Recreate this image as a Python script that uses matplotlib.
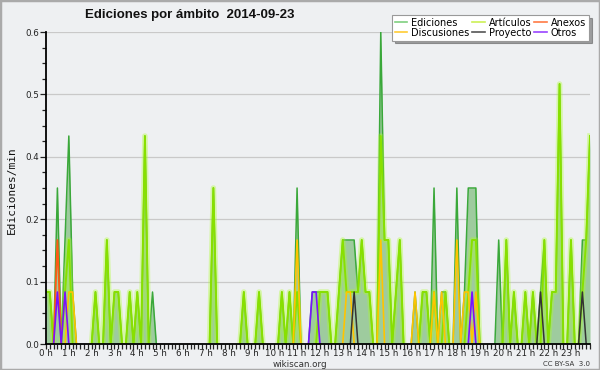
import numpy as np
import matplotlib
matplotlib.use("Agg")
import matplotlib.pyplot as plt
from matplotlib.lines import Line2D
from matplotlib.patches import Rectangle
from matplotlib.ticker import FixedLocator, MultipleLocator

# edits counted per 10-minute bin (6 bins per hour, 24 rows = hours 0..23)
ediciones = [
    1, 1, 0, 3, 0, 2,   4, 1, 0, 0, 0, 0,   0, 1, 0, 0, 2, 0,   1, 1, 0, 0, 1, 0,
    1, 0, 4, 0, 1, 0,   0, 0, 0, 0, 0, 0,   0, 0, 0, 0, 0, 0,   0, 0, 3, 0, 0, 0,
    0, 0, 0, 0, 1, 0,   0, 0, 1, 0, 0, 0,   0, 0, 1, 0, 1, 0,   3, 0, 0, 0, 1, 1,
    1, 1, 1, 0, 0, 1,   2, 2, 2, 2, 1, 2,   1, 1, 0, 0, 6, 2,   2, 0, 1, 2, 0, 0,
    0, 1, 0, 1, 1, 0,   3, 0, 1, 1, 0, 0,   3, 0, 1, 3, 3, 3,   0, 0, 0, 0, 0, 2,
    0, 2, 0, 1, 0, 0,   1, 0, 1, 0, 1, 2,   0, 1, 1, 5, 0, 0,   2, 0, 0, 2, 2, 4,
]
articulos = [
    1, 1, 0, 0, 0, 1,   2, 0, 0, 0, 0, 0,   0, 1, 0, 0, 2, 0,   1, 1, 0, 0, 1, 0,
    1, 0, 4, 0, 0, 0,   0, 0, 0, 0, 0, 0,   0, 0, 0, 0, 0, 0,   0, 0, 3, 0, 0, 0,
    0, 0, 0, 0, 1, 0,   0, 0, 1, 0, 0, 0,   0, 0, 1, 0, 1, 0,   1, 0, 0, 0, 0, 0,
    1, 1, 1, 0, 0, 1,   2, 1, 1, 1, 1, 2,   1, 1, 0, 0, 4, 2,   2, 0, 1, 2, 0, 0,
    0, 0, 0, 1, 1, 0,   1, 0, 0, 1, 0, 0,   0, 0, 0, 1, 2, 2,   0, 0, 0, 0, 0, 0,
    0, 2, 0, 1, 0, 0,   1, 0, 1, 0, 0, 2,   0, 1, 1, 5, 0, 0,   2, 0, 0, 1, 2, 4,
]
anexos = [
    0, 0, 0, 2, 0, 0,   0, 0, 0, 0, 0, 0,   0, 0, 0, 0, 0, 0,   0, 0, 0, 0, 0, 0,
    0, 0, 0, 0, 0, 0,   0, 0, 0, 0, 0, 0,   0, 0, 0, 0, 0, 0,   0, 0, 0, 0, 0, 0,
    0, 0, 0, 0, 0, 0,   0, 0, 0, 0, 0, 0,   0, 0, 0, 0, 0, 0,   0, 0, 0, 0, 0, 0,
    0, 0, 0, 0, 0, 0,   0, 0, 0, 0, 0, 0,   0, 0, 0, 0, 0, 0,   0, 0, 0, 0, 0, 0,
    0, 0, 0, 0, 0, 0,   0, 0, 0, 0, 0, 0,   0, 0, 0, 0, 0, 0,   0, 0, 0, 0, 0, 0,
    0, 0, 0, 0, 0, 0,   0, 0, 0, 0, 0, 0,   0, 0, 0, 0, 0, 0,   0, 0, 0, 0, 0, 0,
]
discusiones = [
    0, 0, 0, 0, 0, 0,   1, 1, 0, 0, 0, 0,   0, 0, 0, 0, 0, 0,   0, 0, 0, 0, 0, 0,
    0, 0, 0, 0, 0, 0,   0, 0, 0, 0, 0, 0,   0, 0, 0, 0, 0, 0,   0, 0, 0, 0, 0, 0,
    0, 0, 0, 0, 0, 0,   0, 0, 0, 0, 0, 0,   0, 0, 0, 0, 0, 0,   2, 0, 0, 0, 0, 0,
    0, 0, 0, 0, 0, 0,   0, 1, 1, 0, 0, 0,   0, 0, 0, 0, 2, 0,   0, 0, 0, 0, 0, 0,
    0, 1, 0, 0, 0, 0,   1, 0, 1, 0, 0, 0,   2, 0, 1, 1, 0, 1,   0, 0, 0, 0, 0, 0,
    0, 0, 0, 0, 0, 0,   0, 0, 0, 0, 0, 0,   0, 0, 0, 0, 0, 0,   0, 0, 0, 0, 0, 0,
]
proyecto = [
    0, 0, 0, 0, 0, 0,   0, 0, 0, 0, 0, 0,   0, 0, 0, 0, 0, 0,   0, 0, 0, 0, 0, 0,
    0, 0, 0, 0, 0, 0,   0, 0, 0, 0, 0, 0,   0, 0, 0, 0, 0, 0,   0, 0, 0, 0, 0, 0,
    0, 0, 0, 0, 0, 0,   0, 0, 0, 0, 0, 0,   0, 0, 0, 0, 0, 0,   0, 0, 0, 0, 0, 0,
    0, 0, 0, 0, 0, 0,   0, 0, 0, 1, 0, 0,   0, 0, 0, 0, 0, 0,   0, 0, 0, 0, 0, 0,
    0, 0, 0, 0, 0, 0,   0, 0, 0, 0, 0, 0,   0, 0, 0, 0, 0, 0,   0, 0, 0, 0, 0, 0,
    0, 0, 0, 0, 0, 0,   0, 0, 0, 0, 1, 0,   0, 0, 0, 0, 0, 0,   0, 0, 0, 1, 0, 0,
]
otros = [
    0, 0, 0, 1, 0, 1,   0, 0, 0, 0, 0, 0,   0, 0, 0, 0, 0, 0,   0, 0, 0, 0, 0, 0,
    0, 0, 0, 0, 0, 0,   0, 0, 0, 0, 0, 0,   0, 0, 0, 0, 0, 0,   0, 0, 0, 0, 0, 0,
    0, 0, 0, 0, 0, 0,   0, 0, 0, 0, 0, 0,   0, 0, 0, 0, 0, 0,   0, 0, 0, 0, 1, 1,
    0, 0, 0, 0, 0, 0,   0, 0, 0, 0, 0, 0,   0, 0, 0, 0, 0, 0,   0, 0, 0, 0, 0, 0,
    0, 0, 0, 0, 0, 0,   0, 0, 0, 0, 0, 0,   0, 0, 0, 0, 1, 0,   0, 0, 0, 0, 0, 0,
    0, 0, 0, 0, 0, 0,   0, 0, 0, 0, 0, 0,   0, 0, 0, 0, 0, 0,   0, 0, 0, 0, 0, 0,
]

BIN_MINUTES = 10
hour_labels = [f"{h} h" for h in range(24)]
title = "Ediciones por ámbito  2014-09-23"
y_label = "Ediciones/min"
legend_labels = ["Ediciones", "Discusiones", "Artículos", "Proyecto", "Anexos", "Otros"]


def per_min(v):
    return np.asarray(v, float) / BIN_MINUTES


def hide_zero_runs(v):
    v = np.asarray(v, float)
    out = v.copy()
    n = len(v)
    for i in range(n):
        l = v[i - 1] if i > 0 else 0
        r = v[i + 1] if i < n - 1 else 0
        if v[i] == 0 and l == 0 and r == 0:
            out[i] = np.nan
    return out


t = np.arange(len(ediciones)) / 6.0

BG = "#eef0f2"
fig = plt.figure(figsize=(6, 3.7), dpi=100, facecolor=BG)
ax = fig.add_axes([46 / 600, 26 / 370, 544 / 600, 312 / 370])
ax.set_facecolor(BG)

tot = per_min(ediciones)
ax.fill_between(t, tot, 0, color="#9ecb9e", lw=0, zorder=1.2)
ax.plot(t, hide_zero_runs(tot), color="#3aa83a", lw=1.1, zorder=1.6)

art = hide_zero_runs(per_min(articulos))
ax.plot(t, art, color="#aaff22", lw=4.0, alpha=0.35, zorder=1.7, solid_joinstyle="round")
ax.plot(t, art, color="#88e000", lw=1.4, zorder=1.8)
ax.plot(t, hide_zero_runs(per_min(discusiones)), color="#ffc400", lw=1.2, zorder=1.9)
ax.plot(t, hide_zero_runs(per_min(anexos)), color="#ff5a14", lw=1.3, zorder=1.9)
ax.plot(t, hide_zero_runs(per_min(otros)), color="#7a10ff", lw=1.2, zorder=1.9)
ax.plot(t, hide_zero_runs(per_min(proyecto)), color="#333333", lw=1.1, zorder=1.95)

ax.set_xlim(t[0], t[-1])
ax.set_ylim(0, 0.6)

yt = [0, 0.12, 0.24, 0.36, 0.48, 0.6]
ax.yaxis.set_major_locator(FixedLocator(yt))
ax.set_yticklabels([f"{v:.1f}" for v in yt])
ax.yaxis.set_minor_locator(MultipleLocator(0.03))
ax.grid(axis="y", color="#c9c9c9", lw=0.9)
ax.set_axisbelow(True)

ax.set_xticks(range(24))
ax.set_xticklabels(hour_labels)
ax.xaxis.set_minor_locator(MultipleLocator(1 / 6))

ax.tick_params(axis="both", which="major", labelsize=6.3, colors="#222222", direction="out", length=4, width=0.9, pad=1)
ax.tick_params(axis="both", which="minor", direction="out", length=3, width=0.9, colors="#222222")
ax.tick_params(axis="x", which="both", length=3.5, pad=0.3)
for s in ("top", "right"):
    ax.spines[s].set_visible(False)
for s in ("left", "bottom"):
    ax.spines[s].set_linewidth(1.3)
    ax.spines[s].set_color("#000000")

fig.text(12 / 600, 1 - 190 / 370, y_label, rotation=90, ha="center", va="center",
         fontsize=8, family="DejaVu Sans Mono", color="#111111")
fig.text(85 / 600, 1 - 15 / 370, title, ha="left", va="center", fontsize=9.5,
         fontweight="bold", family="Liberation Sans", color="#111111")
fig.text(300 / 600, 1 - 364.5 / 370, "wikiscan.org", ha="center", va="center", fontsize=6.3, color="#333333")
fig.text(590 / 600, 1 - 364.5 / 370, "CC BY-SA  3.0", ha="right", va="center", fontsize=5, color="#333333")

leg_colors = ["#7fcf7f", "#ffcc33", "#ccf055", "#555555", "#ff7a44", "#9944ff"]
handles = [Line2D([0], [0], color=c, lw=1.2) for c in leg_colors]
leg = fig.legend(handles, legend_labels, ncol=3, loc="upper right",
                 bbox_to_anchor=(594 / 600, 1 - 10 / 370), fontsize=7,
                 handlelength=1.3, handletextpad=0.4, columnspacing=0.3,
                 labelspacing=0.0, borderpad=0.3, frameon=True, fancybox=False,
                 shadow=True, framealpha=1)
leg.get_frame().set_edgecolor("#999999")
leg.get_frame().set_linewidth(0.8)

fig.patches.append(Rectangle((0, 0), 1, 1, transform=fig.transFigure, fill=False,
                             edgecolor="#aaaaaa", lw=2.5))

fig.savefig("out.png", dpi=100, facecolor=BG)
